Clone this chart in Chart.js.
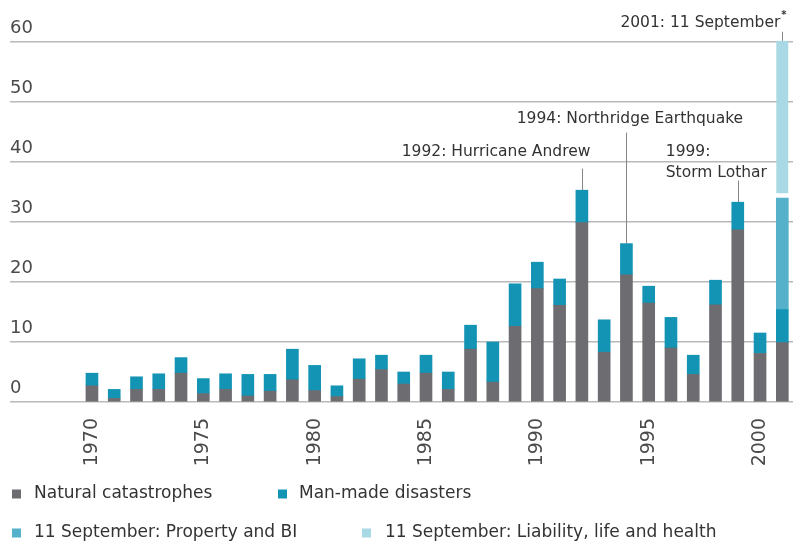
<!DOCTYPE html>
<html>
<head>
<meta charset="utf-8">
<script src="https://cdn.jsdelivr.net/npm/chart.js@4/dist/chart.umd.min.js"></script>
<style>
  html, body { margin: 0; padding: 0; background: #ffffff; }
  canvas { display: block; }
</style>
</head>
<body>
<canvas id="c" width="793" height="542"></canvas>
<script>
// Insured losses per year (USD bn), split by type of event
const years = [1970, 1971, 1972, 1973, 1974, 1975, 1976, 1977, 1978, 1979,
               1980, 1981, 1982, 1983, 1984, 1985, 1986, 1987, 1988, 1989,
               1990, 1991, 1992, 1993, 1994, 1995, 1996, 1997, 1998, 1999,
               2000, 2001];
const natural = [2.7, 0.6, 2.1, 2.1, 4.8, 1.4, 2.1, 1.0, 1.8, 3.7,
                 1.9, 0.9, 3.8, 5.4, 3.0, 4.8, 2.1, 8.8, 3.3, 12.6,
                 18.9, 16.1, 29.9, 8.3, 21.2, 16.5, 9.0, 4.6, 16.2, 28.7,
                 8.1, 9.9];
const manMade = [2.1, 1.5, 2.1, 2.6, 2.6, 2.5, 2.6, 3.6, 2.8, 5.1,
                 4.2, 1.8, 3.4, 2.4, 2.0, 3.0, 2.9, 4.0, 6.7, 7.1,
                 4.4, 4.4, 5.4, 5.4, 5.2, 2.8, 5.1, 3.2, 4.1, 4.6,
                 3.4, 5.5];
const sept11Years = [2001];
const sept11Property = [18.6];
const sept11Liability = [26.2];

const seriesNames = ['Natural catastrophes', 'Man-made disasters',
                     '11 September: Property and BI', '11 September: Liability, life and health'];
const xTickYears = [1970, 1975, 1980, 1985, 1990, 1995, 2000];
const yTickValues = [0, 10, 20, 30, 40, 50, 60];

// Major events called out above their bars
const eventYears = [1992, 1994, 1999, 2001];
const eventLabels = [['1992: Hurricane Andrew'], ['1994: Northridge Earthquake'],
                     ['1999:', 'Storm Lothar'], ['2001: 11 September']];
const eventNotes = ['', '', '', '*'];

const FONT = "'DejaVu Sans', sans-serif";
const COLORS = ['#6d6c71', '#1394b5', '#55b1ca', '#a9d9e4'];

// label placement for each call-out (text rows and leader start in axis units)
const eventLayout = [
  { align: 'right',  dx: 8.5, textAt: [41.75],       lineFrom: 38.9 },
  { align: 'center', dx: 3.5, textAt: [47.25],       lineFrom: 44.9 },
  { align: 'left',   dx: -72, textAt: [41.6, 38.1],  lineFrom: 36.9 },
  { align: 'right',  dx: -2,  textAt: [63.25],       lineFrom: 61.7 }
];

const toPoints = (vals, yrs) => vals.map((v, i) => ({ x: yrs[i], y: v }));

function stackTotal(chart, yr) {
  let sum = 0;
  chart.data.datasets.forEach(ds => ds.data.forEach(p => { if (p.x === yr) sum += p.y; }));
  return sum;
}

const callouts = {
  id: 'callouts',
  afterDatasetsDraw(chart) {
    const { ctx, scales: { x, y } } = chart;
    ctx.save();
    ctx.font = '15.5px ' + FONT;
    ctx.fillStyle = '#333333';
    ctx.strokeStyle = '#858585';
    ctx.lineWidth = 1;
    ctx.textBaseline = 'middle';
    eventYears.forEach((yr, k) => {
      const L = eventLayout[k];
      const bx = x.getPixelForValue(yr);
      const top = y.getPixelForValue(stackTotal(chart, yr));
      const lx = Math.round(bx) + 0.5;
      ctx.beginPath();
      ctx.moveTo(lx, y.getPixelForValue(L.lineFrom));
      ctx.lineTo(lx, top);
      ctx.stroke();
      const note = eventNotes[k];
      if (note) {
        ctx.save();
        ctx.font = 'bold 10px ' + FONT;
        ctx.textAlign = 'left';
        ctx.fillText(note, bx + L.dx + 1, y.getPixelForValue(L.textAt[0]) - 7);
        ctx.restore();
      }
      ctx.textAlign = L.align;
      eventLabels[k].forEach((t, j) => {
        ctx.fillText(t, bx + L.dx, y.getPixelForValue(L.textAt[j]));
      });
    });
    ctx.restore();
  }
};

// legend entries: two rows below the axis
const legendSpots = [
  { sx: 12, tx: 34, cy: 494 },
  { sx: 278, tx: 299, cy: 494 },
  { sx: 12, tx: 34, cy: 533 },
  { sx: 362, tx: 385, cy: 533 }
];

const legendRows = {
  id: 'legendRows',
  afterDraw(chart) {
    const { ctx } = chart;
    ctx.save();
    ctx.font = '17px ' + FONT;
    ctx.textBaseline = 'middle';
    ctx.textAlign = 'left';
    chart.data.datasets.forEach((ds, i) => {
      const s = legendSpots[i];
      ctx.fillStyle = ds.backgroundColor;
      ctx.fillRect(s.sx, s.cy - 4.5, 9, 9);
      ctx.fillStyle = '#333333';
      ctx.fillText(ds.label, s.tx, s.cy);
    });
    ctx.restore();
  }
};

new Chart(document.getElementById('c'), {
  type: 'bar',
  data: {
    datasets: [
      { label: seriesNames[0], data: toPoints(natural, years), backgroundColor: COLORS[0], stack: 'loss' },
      { label: seriesNames[1], data: toPoints(manMade, years), backgroundColor: COLORS[1], stack: 'loss' },
      { label: seriesNames[2], data: toPoints(sept11Property, sept11Years), backgroundColor: COLORS[2], stack: 'loss' },
      { label: seriesNames[3], data: toPoints(sept11Liability, sept11Years), backgroundColor: COLORS[3], stack: 'loss',
        borderColor: '#ffffff', borderWidth: { top: 0, left: 0, right: 0, bottom: 5 }, borderSkipped: false, clip: false }
    ]
  },
  options: {
    responsive: false,
    animation: false,
    devicePixelRatio: 1,
    layout: { padding: { left: 10, right: 0, top: 42, bottom: 0 } },
    datasets: { bar: { barThickness: 12 } },
    plugins: { legend: { display: false }, tooltip: { enabled: false } },
    scales: {
      x: {
        type: 'linear',
        offset: false,
        min: 1966.32,
        max: 2001.48,
        grid: { display: false },
        border: { display: false },
        afterBuildTicks: s => { s.ticks = xTickYears.map(v => ({ value: v })); },
        afterFit: s => { s.height = 140; },
        ticks: {
          minRotation: 90, maxRotation: 90, autoSkip: false, padding: 8,
          color: '#4a4a4a', font: { family: FONT, size: 19 },
          callback: v => String(v)
        }
      },
      y: {
        min: 0, max: 60, stacked: true,
        border: { display: false },
        grid: { color: '#b9b9b9', lineWidth: 1.5, drawTicks: false },
        afterBuildTicks: s => { s.ticks = yTickValues.map(v => ({ value: v })); },
        afterFit: s => { s.width = 0; },
        ticks: {
          mirror: true, padding: 0, labelOffset: -14,
          color: '#4a4a4a', font: { family: FONT, size: 18 }
        }
      }
    }
  },
  plugins: [callouts, legendRows]
});
</script>
</body>
</html>
